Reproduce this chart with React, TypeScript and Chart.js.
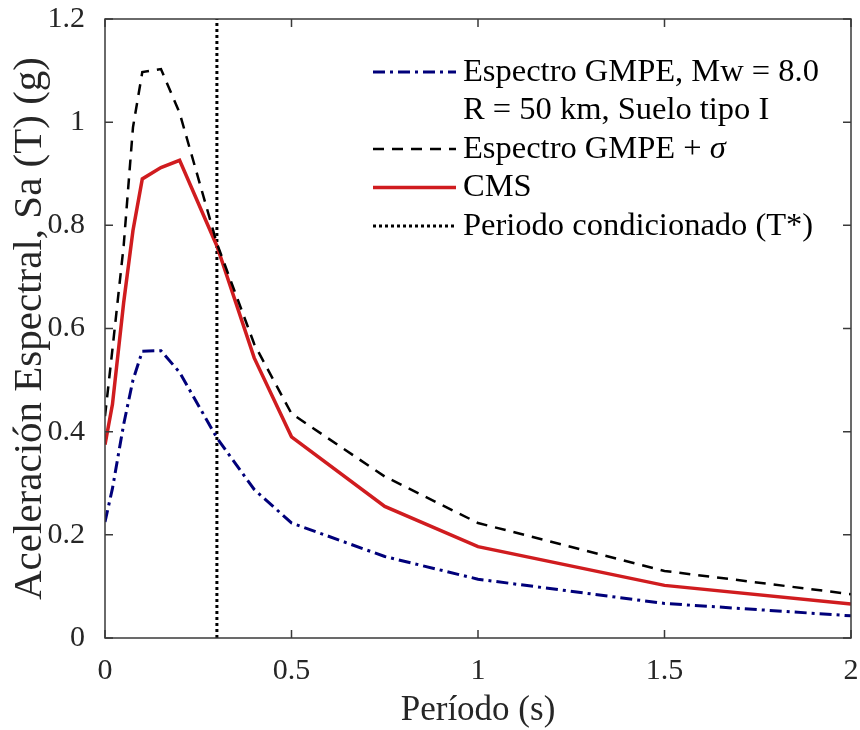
import React, { useEffect, useRef } from "react";
import { Chart, registerables } from "chart.js";

Chart.register(...registerables);

// ---- Data ----
const periods = [0, 0.02, 0.05, 0.075, 0.1, 0.15, 0.2, 0.3, 0.4, 0.5, 0.75, 1, 1.5, 2];
const gmpe = [0.225, 0.29, 0.414, 0.5, 0.556, 0.557, 0.515, 0.388, 0.288, 0.223, 0.158, 0.114, 0.067, 0.043];
const gmpeSigma = [0.43, 0.56, 0.76, 0.99, 1.097, 1.103, 1.018, 0.765, 0.57, 0.435, 0.313, 0.223, 0.13, 0.085];
const cms = [0.375, 0.453, 0.65, 0.79, 0.89, 0.912, 0.926, 0.76, 0.543, 0.39, 0.255, 0.177, 0.102, 0.066];
const conditionedPeriod = 0.3;
const xTicks = [0, 0.5, 1, 1.5, 2];
const yTicks = [0, 0.2, 0.4, 0.6, 0.8, 1, 1.2];
const xTitle = "Período (s)";
const yTitle = "Aceleración Espectral, Sa (T) (g)";
const legendLabels: string[][] = [
  ["Espectro GMPE, Mw = 8.0", "R = 50 km, Suelo tipo I"],
  ["Espectro GMPE + σ"],
  ["CMS"],
  ["Periodo condicionado (T*)"],
];

const FONT = "'Liberation Serif', 'Times New Roman', serif";
const AXIS_COLOR = "#262626";
const LEGEND_SIZE = 32.5;

const framePlugin = {
  id: "frame",
  afterDatasetsDraw(chart: any) {
    const { ctx, chartArea: a, scales } = chart;
    ctx.save();
    ctx.strokeStyle = "#3a3a3a";
    ctx.lineWidth = 1.5;
    ctx.strokeRect(a.left, a.top, a.right - a.left, a.bottom - a.top);
    const tl = 8;
    ctx.beginPath();
    xTicks.forEach((v) => {
      const px = scales.x.getPixelForValue(v);
      ctx.moveTo(px, a.bottom);
      ctx.lineTo(px, a.bottom - tl);
      ctx.moveTo(px, a.top);
      ctx.lineTo(px, a.top + tl);
    });
    yTicks.forEach((v) => {
      const py = scales.y.getPixelForValue(v);
      ctx.moveTo(a.left, py);
      ctx.lineTo(a.left + tl, py);
      ctx.moveTo(a.right, py);
      ctx.lineTo(a.right - tl, py);
    });
    ctx.stroke();
    ctx.restore();
  },
};

const legendPlugin = {
  id: "customLegend",
  afterDraw(chart: any) {
    const { ctx } = chart;
    const datasets = chart.data.datasets;
    const x0 = 373;
    const x1 = 456;
    const tx = 463;
    let y = 72;
    const rowH = 38.5;
    ctx.save();
    ctx.textBaseline = "middle";
    ctx.textAlign = "left";
    datasets.forEach((ds: any, i: number) => {
      ctx.save();
      ctx.strokeStyle = ds.borderColor;
      ctx.lineWidth = ds.borderWidth;
      ctx.setLineDash(ds.borderDash || []);
      ctx.beginPath();
      ctx.moveTo(x0, y);
      ctx.lineTo(x1, y);
      ctx.stroke();
      ctx.restore();
      const lines = legendLabels[i];
      lines.forEach((line) => {
        ctx.fillStyle = "#000";
        ctx.font = `${LEGEND_SIZE}px ${FONT}`;
        if (line.endsWith("σ")) {
          const pre = line.slice(0, -1);
          ctx.fillText(pre, tx, y);
          const w = ctx.measureText(pre).width;
          ctx.font = `italic ${LEGEND_SIZE}px ${FONT}`;
          ctx.fillText("σ", tx + w, y);
        } else {
          ctx.fillText(line, tx, y);
        }
        y += rowH;
      });
    });
    ctx.restore();
  },
};

export default function App() {
  const ref = useRef<HTMLCanvasElement | null>(null);

  useEffect(() => {
    document.body.style.margin = "0";
    if (!ref.current) return;
    const mk = (vals: number[]) => periods.map((p, i) => ({ x: p, y: vals[i] }));
    const chart = new Chart(ref.current, {
      type: "line",
      data: {
        datasets: [
          {
            label: legendLabels[0].join(" "),
            data: mk(gmpe),
            borderColor: "#00007a",
            borderWidth: 3,
            borderDash: [12, 5, 3, 5],
            pointRadius: 0,
            tension: 0,
          },
          {
            label: legendLabels[1][0],
            data: mk(gmpeSigma),
            borderColor: "#000000",
            borderWidth: 2.5,
            borderDash: [11, 8],
            pointRadius: 0,
            tension: 0,
          },
          {
            label: legendLabels[2][0],
            data: mk(cms),
            borderColor: "#d01c1f",
            borderWidth: 3.5,
            pointRadius: 0,
            tension: 0,
          },
          {
            label: legendLabels[3][0],
            data: [
              { x: conditionedPeriod, y: yTicks[0] },
              { x: conditionedPeriod, y: yTicks[yTicks.length - 1] },
            ],
            borderColor: "#000000",
            borderWidth: 3,
            borderDash: [3, 3],
            pointRadius: 0,
            tension: 0,
          },
        ],
      },
      options: {
        responsive: false,
        animation: false,
        layout: { padding: { top: 19, right: 9, left: 0, bottom: 0 } },
        plugins: { legend: { display: false }, tooltip: { enabled: false } },
        scales: {
          x: {
            type: "linear",
            min: xTicks[0],
            max: xTicks[xTicks.length - 1],
            afterBuildTicks: (axis: any) => {
              axis.ticks = xTicks.map((v) => ({ value: v }));
            },
            afterFit: (axis: any) => {
              axis.height = 92;
              axis.paddingLeft = 0;
              axis.paddingRight = 0;
            },
            grid: { display: false },
            border: { display: false },
            ticks: {
              padding: 7,
              color: AXIS_COLOR,
              font: { family: FONT, size: 30 },
              maxRotation: 0,
              autoSkip: false,
              callback: (v: any) => String(v),
            },
            title: {
              display: true,
              text: xTitle,
              color: AXIS_COLOR,
              font: { family: FONT, size: 35, lineHeight: 1.0 },
              padding: { top: 0, bottom: 1.5 },
            },
          },
          y: {
            type: "linear",
            min: yTicks[0],
            max: yTicks[yTicks.length - 1],
            afterBuildTicks: (axis: any) => {
              axis.ticks = yTicks.map((v) => ({ value: v }));
            },
            afterFit: (axis: any) => {
              axis.width = 105;
              axis.paddingTop = 0;
              axis.paddingBottom = 0;
            },
            grid: { display: false },
            border: { display: false },
            ticks: {
              padding: 12,
              color: AXIS_COLOR,
              font: { family: FONT, size: 30 },
              autoSkip: false,
              callback: (v: any) => String(v),
            },
            title: {
              display: true,
              text: yTitle,
              color: AXIS_COLOR,
              font: { family: FONT, size: 41, lineHeight: 1.0 },
              padding: { top: 10, bottom: 0 },
            },
          },
        },
      },
      plugins: [framePlugin, legendPlugin],
    });
    return () => chart.destroy();
  }, []);

  return (
    <div style={{ width: 860, height: 730, position: "relative", background: "#fff" }}>
      <canvas ref={ref} width={860} height={730} style={{ display: "block" }} />
    </div>
  );
}
